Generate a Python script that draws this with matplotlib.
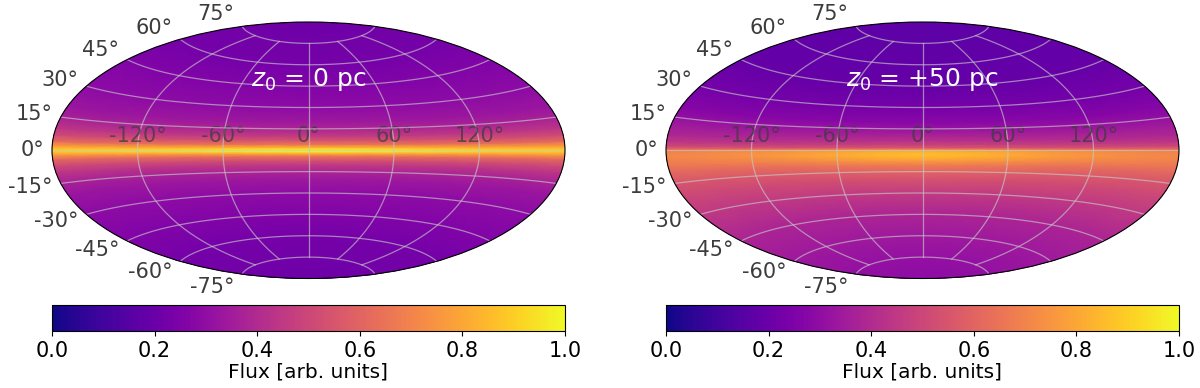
"""Two all-sky Aitoff maps of flux for different source heights z0."""

import matplotlib

matplotlib.use("Agg")
import matplotlib.pyplot as plt
import numpy as np

# Node latitudes, denser near the plane where the flux changes quickly.
LAT_DEG = [-90, -85, -75, -60, -45, -30, -20, -15, -10, -7, -4, -2, -1, -0.4, 0,
           0.4, 1, 2, 4, 7, 10, 15, 20, 30, 45, 60, 75, 85, 90]
LON_DEG = [-215, -180, -150, -120, -90, -60, -30, 0, 30, 60, 90, 120, 150, 180, 215]

# Share of the anticentre profile at each longitude (0 = centre, 1 = anticentre).
LON_FADE = [1.0, 1.0, 0.9, 0.75, 0.55, 0.3, 0.1, 0.0, 0.1, 0.3, 0.55, 0.75, 0.9, 1.0, 1.0]

# Flux (z0 = 0 pc), same order as LAT_DEG.
FLUX_Z0_CENTRE = [0.21, 0.21, 0.22, 0.23, 0.26, 0.29, 0.34, 0.38, 0.46, 0.54, 0.66, 0.84, 0.94,
                  0.99, 1.0,
                  0.99, 0.94, 0.84, 0.66, 0.54, 0.46, 0.38, 0.34, 0.29, 0.26, 0.23, 0.22, 0.21, 0.21]
FLUX_Z0_EDGE = [0.21, 0.21, 0.22, 0.23, 0.26, 0.29, 0.33, 0.37, 0.44, 0.51, 0.62, 0.77, 0.85,
                0.89, 0.90,
                0.89, 0.85, 0.77, 0.62, 0.51, 0.44, 0.37, 0.33, 0.29, 0.26, 0.23, 0.22, 0.21, 0.21]

# Flux (z0 = +50 pc).
FLUX_Z50_CENTRE = [0.30, 0.30, 0.31, 0.34, 0.38, 0.46, 0.54, 0.60, 0.69, 0.78, 0.855, 0.85, 0.83,
                   0.81, 0.80,
                   0.76, 0.66, 0.55, 0.48, 0.42, 0.38, 0.32, 0.28, 0.23, 0.19, 0.18, 0.17, 0.17, 0.17]
FLUX_Z50_EDGE = [0.30, 0.30, 0.31, 0.34, 0.38, 0.45, 0.51, 0.55, 0.61, 0.66, 0.70, 0.71, 0.70,
                 0.69, 0.68,
                 0.64, 0.58, 0.50, 0.44, 0.39, 0.36, 0.31, 0.27, 0.23, 0.19, 0.18, 0.17, 0.17, 0.17]

PANELS = [
    (52, r"$z_0$ = 0 pc", FLUX_Z0_CENTRE, FLUX_Z0_EDGE),
    (666, r"$z_0$ = +50 pc", FLUX_Z50_CENTRE, FLUX_Z50_EDGE),
]
CBAR_TICKS = [0.0, 0.2, 0.4, 0.6, 0.8, 1.0]
W, H = 1200, 388


def draw_panel(fig, x_px, label, centre, edge):
    ax = fig.add_axes([x_px / W, 1 - 278.5 / H, 513 / W, 256.5 / H], projection="aitoff")
    lon = np.radians(LON_DEG)
    lat = np.radians(LAT_DEG)
    fade = np.array(LON_FADE)
    flux = np.outer(centre, 1 - fade) + np.outer(edge, fade)
    # Pole slivers the coarse mesh leaves open get the polar colour.
    ax.set_facecolor(plt.cm.plasma(centre[-1]))
    mesh = ax.pcolormesh(lon, lat, flux, cmap="plasma", vmin=0, vmax=1,
                         shading="gouraud", rasterized=True)
    ax.set_longitude_grid(60)
    ax.set_latitude_grid(15)
    ax.grid(True, color="#c8c8c8", linewidth=0.9, alpha=0.65)
    ax.tick_params(axis="both", labelsize=15, labelcolor="#3c3c3c")
    for tick in ax.get_xticklabels():
        tick.set_alpha(0.72)
    ax.text(0.5, 0.775, label, transform=ax.transAxes, color="white",
            fontsize=18, ha="center", va="center")

    cax = fig.add_axes([x_px / W, 1 - 331 / H, 513 / W, 26 / H])
    cbar = fig.colorbar(mesh, cax=cax, orientation="horizontal", ticks=CBAR_TICKS)
    cbar.ax.tick_params(labelsize=15, length=3.5)
    cbar.set_label("Flux [arb. units]", fontsize=14.5, labelpad=1)
    cbar.solids.set_rasterized(True)


def main():
    fig = plt.figure(figsize=(W / 100, H / 100), dpi=100)
    for x_px, label, centre, edge in PANELS:
        draw_panel(fig, x_px, label, centre, edge)
    fig.savefig("out.png", dpi=100)


if __name__ == "__main__":
    main()
